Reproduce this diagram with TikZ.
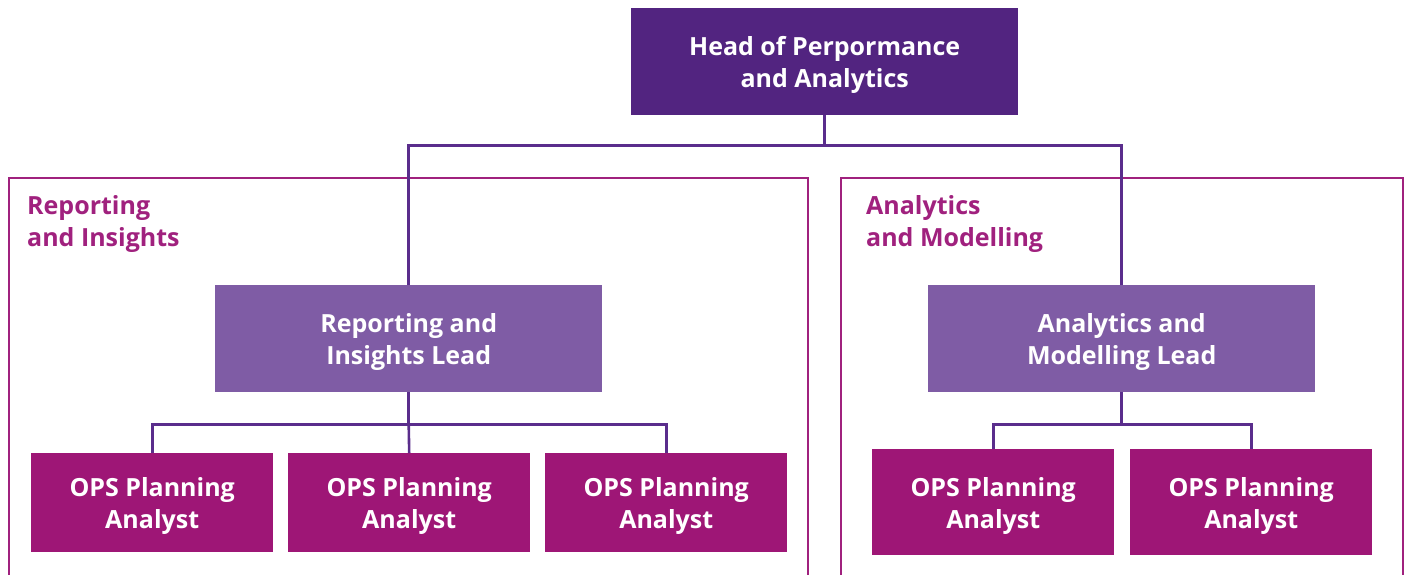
\documentclass[tikz,border=0pt]{standalone}
\usepackage{fontspec}
\setmainfont{Open Sans}
\definecolor{headc}{HTML}{522480}
\definecolor{leadc}{HTML}{7F5CA5}
\definecolor{anc}{HTML}{9E1676}
\definecolor{linec}{HTML}{5A2D8C}
\definecolor{framec}{HTML}{A0217E}
\newcommand{\downtxt}[2]{\begin{tabular}{@{}c@{}}\rule{0pt}{30pt}#1\\#2\end{tabular}}
\begin{document}
\begin{tikzpicture}[x=1pt,y=-1pt,
  boxbase/.style={anchor=north west,inner sep=0pt,text=white,
    font=\fontsize{25}{32}\selectfont\bfseries},
  headbox/.style={boxbase,fill=headc,minimum width=387pt,minimum height=107pt},
  leadbox/.style={boxbase,fill=leadc,minimum width=387pt,minimum height=107pt},
  anbox/.style={boxbase,fill=anc,minimum width=242pt,minimum height=99pt},
  conn/.style={draw=linec,line width=2.6pt},
  frame/.style={draw=framec,line width=2.4pt},
  grouplabel/.style={anchor=north west,inner sep=0pt,align=left,text=framec,
    font=\fontsize{25}{32}\selectfont\bfseries}]
\useasboundingbox (0,0) rectangle (1408,574);
% frames (open at bottom)
\draw[frame] (9,580) -- (9,178) -- (808,178) -- (808,580);
\draw[frame] (841,580) -- (841,178) -- (1403,178) -- (1403,580);
\node[grouplabel] (lblL) at (27,195) {Reporting\\and Insights};
\node[grouplabel] (lblR) at (866,195) {Analytics\\and Modelling};
% nodes
\node[headbox] (head) at (631,8) {\downtxt{Head of Perpormance}{and Analytics}};
\node[leadbox] (leadL) at (215,285) {\downtxt{Reporting and}{Insights Lead}};
\node[leadbox] (leadR) at (928,285) {\downtxt{Analytics and}{Modelling Lead}};
\node[anbox] (a1) at (31,453) {\downtxt{OPS Planning}{Analyst}};
\node[anbox] (a2) at (288,453) {\downtxt{OPS Planning}{Analyst}};
\node[anbox] (a3) at (545,453) {\downtxt{OPS Planning}{Analyst}};
\node[anbox, minimum height=106pt] (a4) at (872,449) {\downtxt{OPS Planning}{Analyst}};
\node[anbox, minimum height=106pt] (a5) at (1130,449) {\downtxt{OPS Planning}{Analyst}};
% connectors
\coordinate (hj) at ([yshift=-30pt]head.south);
\draw[conn] (head.south) -- (hj);
\draw[conn] (leadL.north) |- (hj) -| (leadR.north);
\coordinate (lj) at ([yshift=-32pt]leadL.south);
\draw[conn] (leadL.south) -- (lj);
\draw[conn] (a1.north) |- (lj) -| (a3.north);
\draw[conn] (lj) -- (a2.north);
\coordinate (rj) at ([yshift=-32pt]leadR.south);
\draw[conn] (leadR.south) -- (rj);
\draw[conn] (a4.north) |- (rj) -| (a5.north);
\end{tikzpicture}
\end{document}
